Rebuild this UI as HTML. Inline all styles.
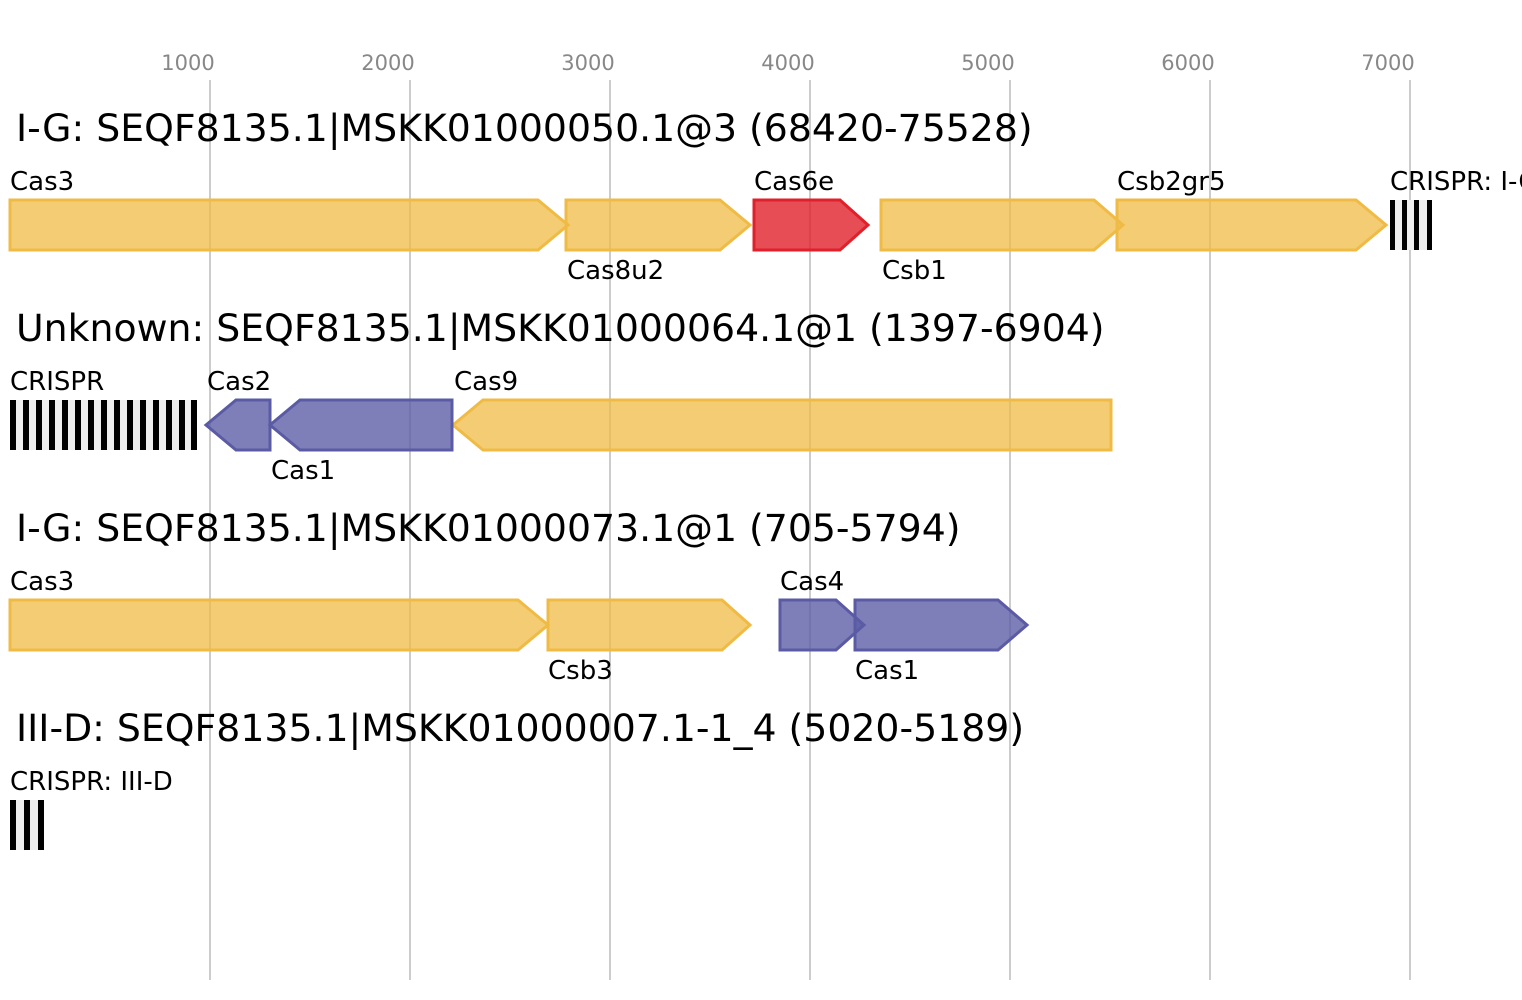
<!DOCTYPE html>
<html><head><meta charset="utf-8"><style>html,body{margin:0;padding:0;background:#fff}svg{display:block}text{font-family:"DejaVu Sans","Liberation Sans",sans-serif}</style></head><body>
<svg width="1522" height="1000" viewBox="0 0 1522 1000" xmlns="http://www.w3.org/2000/svg">
<g stroke="#bbb" stroke-width="1.5">
<line x1="210" y1="80" x2="210" y2="980"/><line x1="410" y1="80" x2="410" y2="980"/><line x1="610" y1="80" x2="610" y2="980"/><line x1="810" y1="80" x2="810" y2="980"/><line x1="1010" y1="80" x2="1010" y2="980"/><line x1="1210" y1="80" x2="1210" y2="980"/><line x1="1410" y1="80" x2="1410" y2="980"/>
</g>
<g fill="#888" style="font-size:21px" text-anchor="middle">
<text x="188" y="70">1000</text><text x="388" y="70">2000</text><text x="588" y="70">3000</text><text x="788" y="70">4000</text><text x="988" y="70">5000</text><text x="1188" y="70">6000</text><text x="1388" y="70">7000</text>
</g>
<g style="font-size:37.8px" fill="#000">
<text x="16" y="141">I-G: SEQF8135.1|MSKK01000050.1@3 (68420-75528)</text>
<text x="16" y="341">Unknown: SEQF8135.1|MSKK01000064.1@1 (1397-6904)</text>
<text x="16" y="541">I-G: SEQF8135.1|MSKK01000073.1@1 (705-5794)</text>
<text x="16" y="741">III-D: SEQF8135.1|MSKK01000007.1-1_4 (5020-5189)</text>
</g>
<g stroke-width="3" stroke-linejoin="miter">
<g fill="#efbb45" fill-opacity="0.75" stroke="#efbb45">
<polygon points="10,200 538,200 568,225 538,250 10,250"/>
<polygon points="566,200 720,200 750,225 720,250 566,250"/>
<polygon points="881,200 1094,200 1123,225 1094,250 881,250"/>
<polygon points="1117,200 1356,200 1386,225 1356,250 1117,250"/>
<polygon points="453,425 483,400 1111,400 1111,450 483,450"/>
<polygon points="10,600 518,600 548,625 518,650 10,650"/>
<polygon points="548,600 722,600 750,625 722,650 548,650"/>
</g>
<polygon fill="#e0202a" fill-opacity="0.8" stroke="#e0202a" points="754,200 840,200 868,225 840,250 754,250"/>
<g fill="#5a5ba4" fill-opacity="0.78" stroke="#5a5ba4">
<polygon points="206,425 236,400 270,400 270,450 236,450"/>
<polygon points="270,425 300,400 452,400 452,450 300,450"/>
<polygon points="780,600 836,600 864,625 836,650 780,650"/>
<polygon points="855,600 998,600 1027,625 998,650 855,650"/>
</g>
</g>
<rect x="10" y="400" width="187" height="50" fill="#eee"/>
<g fill="#000">
<rect x="10" y="400" width="6" height="50"/><rect x="23" y="400" width="6" height="50"/><rect x="36" y="400" width="6" height="50"/><rect x="49" y="400" width="6" height="50"/><rect x="62" y="400" width="6" height="50"/><rect x="75" y="400" width="6" height="50"/><rect x="88" y="400" width="6" height="50"/><rect x="101" y="400" width="6" height="50"/><rect x="114" y="400" width="6" height="50"/><rect x="127" y="400" width="6" height="50"/><rect x="140" y="400" width="6" height="50"/><rect x="153" y="400" width="6" height="50"/><rect x="166" y="400" width="6" height="50"/><rect x="179" y="400" width="6" height="50"/><rect x="191" y="400" width="6" height="50"/>
</g>
<rect x="1390" y="200" width="42" height="50" fill="#eee"/>
<g fill="#000"><rect x="1390" y="200" width="5" height="50"/><rect x="1402" y="200" width="5" height="50"/><rect x="1414" y="200" width="5" height="50"/><rect x="1427" y="200" width="5" height="50"/></g>
<rect x="10" y="800" width="34" height="50" fill="#eee"/>
<g fill="#000"><rect x="10" y="800" width="6" height="50"/><rect x="24" y="800" width="6" height="50"/><rect x="38" y="800" width="6" height="50"/></g>
<g style="font-size:26px" fill="#000">
<text x="10" y="190">Cas3</text><text x="754" y="190">Cas6e</text><text x="1117" y="190">Csb2gr5</text><text x="1390" y="190">CRISPR: I-G</text>
<text x="567" y="279">Cas8u2</text><text x="882" y="279">Csb1</text>
<text x="10" y="390">CRISPR</text><text x="207" y="390">Cas2</text><text x="454" y="390">Cas9</text>
<text x="271" y="479">Cas1</text>
<text x="10" y="590">Cas3</text><text x="780" y="590">Cas4</text>
<text x="548" y="679">Csb3</text><text x="855" y="679">Cas1</text>
<text x="10" y="790">CRISPR: III-D</text>
</g>
</svg>
</body></html>
